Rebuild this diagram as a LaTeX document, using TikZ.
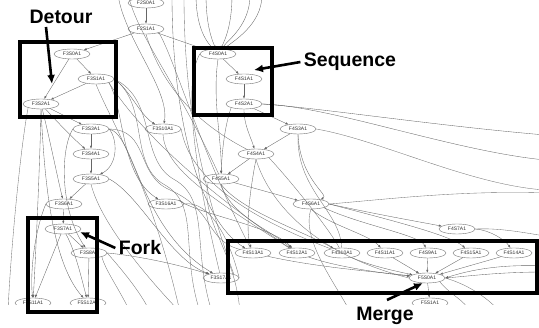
\documentclass[tikz,border=0pt]{standalone}
\usepackage{fontspec}
\setmainfont{Liberation Sans}
\usetikzlibrary{shapes.geometric,arrows.meta}
\begin{document}
\begin{tikzpicture}[x=1pt,y=-1pt,
 gnode/.style={ellipse,draw=black!55,fill=white,line width=0.4pt,inner sep=0.5pt,minimum width=36pt,minimum height=10pt,font=\fontsize{5}{5}\selectfont,text=black!80},
 gedge/.style={draw=black!60,line width=0.35pt,-{Latex[length=3pt,width=2.2pt]}},
 gline/.style={draw=black!55,line width=0.35pt},
 hbox/.style={draw=black,line width=4.2pt},
 callout/.style={font=\fontsize{19.5}{20}\selectfont\bfseries},
 carrow/.style={draw=black,line width=2.6pt,-{Latex[length=9pt,width=8pt]}}]
\useasboundingbox (0,0) rectangle (539,328);
\begin{scope}
\clip (0,0) rectangle (539,305);
% nodes
\node[gnode] (n20) at (146,3) {F2S0A1};
\node[gnode] (n21) at (146,29) {F2S1A1};
\node[gnode] (n30) at (72,54) {F3S0A1};
\node[gnode] (n31) at (96,79) {F3S1A1};
\node[gnode] (n32) at (41,104) {F3S2A1};
\node[gnode] (n33) at (91,129) {F3S3A1};
\node[gnode] (n34) at (91,154) {F3S4A1};
\node[gnode] (n35) at (91,179) {F3S5A1};
\node[gnode] (n36) at (64,204) {F3S6A1};
\node[gnode] (n37) at (63,229) {F3S7A1};
\node[gnode] (n38) at (89,253) {F3S8A1};
\node[gnode] (n310) at (163,129) {F3S10A1};
\node[gnode] (n316) at (166,204) {F3S16A1};
\node[gnode] (n317) at (221,278) {F3S17A1};
\node[gnode] (n511) at (33,303) {F5S11A1};
\node[gnode] (n512) at (88,303) {F5S12A1};
\node[gnode] (n40) at (218,54) {F4S0A1};
\node[gnode] (n41) at (244,79) {F4S1A1};
\node[gnode] (n42) at (244,104) {F4S2A1};
\node[gnode] (n43) at (298,129) {F4S3A1};
\node[gnode] (n44) at (256,154) {F4S4A1};
\node[gnode] (n45) at (221,179) {F4S5A1};
\node[gnode] (n46) at (311,204) {F4S6A1};
\node[gnode] (n47) at (457,229) {F4S7A1};
\node[gnode] (n413) at (253,253) {F4S13A1};
\node[gnode] (n412) at (297,253) {F4S12A1};
\node[gnode] (n410) at (342,253) {F4S10A1};
\node[gnode] (n411) at (385,253) {F4S11A1};
\node[gnode] (n49) at (428,253) {F4S9A1};
\node[gnode] (n415) at (471,253) {F4S15A1};
\node[gnode] (n414) at (514,253) {F4S14A1};
\node[gnode] (n50) at (427,278) {F5S0A1};
\node[gnode] (n51) at (430,303) {F5S1A1};
% free ends
\coordinate (t1) at (118,-5); \coordinate (t2) at (128,-5);
\coordinate (t3) at (172,-5); \coordinate (t4) at (184,-5);
\coordinate (t5) at (196,-5); \coordinate (t6) at (206,-5);
\coordinate (t7) at (232,-5); \coordinate (t8) at (250,-5);
\coordinate (t9) at (262,-5);
\coordinate (r1) at (545,135); \coordinate (r2) at (545,160);
\coordinate (r3) at (545,190); \coordinate (r4) at (545,193);
\coordinate (r5) at (545,236); \coordinate (r6) at (545,266);
\coordinate (r7) at (545,272);
\coordinate (b1) at (130,312); \coordinate (b2) at (150,312);
\coordinate (b3) at (180,312); \coordinate (b4) at (470,312);
\coordinate (b5) at (500,312); \coordinate (b6) at (240,312);
\coordinate (b7) at (350,312); \coordinate (b8) at (8,312);
\coordinate (b9) at (200,312); \coordinate (b10) at (212,312);
% main graph edges
\draw[gedge] (n20) -- (n21);
\draw[gedge] (n21) -- (n30);
\draw[gedge] (n21) -- (n40);
\draw[gedge] (n30) -- (n31);
\draw[gedge] (n30) -- (n32);
\draw[gedge] (n31) -- (n32);
\draw[gedge] (n32) -- (n33);
\draw[gedge] (n32) .. controls (60,125) and (75,140) .. (n34);
\draw[gedge] (n32) .. controls (50,140) and (58,180) .. (n36);
\draw[gedge] (n32.south) .. controls (40,160) and (36,250) .. (n511);
\draw[gedge] (n32.south) .. controls (44,170) and (50,260) .. (n512);
\draw[gedge] (n33) -- (n34);
\draw[gedge] (n33.east) .. controls (118,140) and (118,165) .. (n35);
\draw[gedge] (n33.west) .. controls (60,150) and (60,210) .. (n38);
\draw[gedge] (n34) -- (n35);
\draw[gedge] (n35) -- (n36);
\draw[gedge] (n36) -- (n37);
\draw[gedge] (n37) -- (n38);
\draw[gedge] (n37) -- (n511);
\draw[gedge] (n37) .. controls (75,250) and (82,280) .. (n512);
\draw[gedge] (n38) -- (n512);
\draw[gedge] (n36.west) .. controls (35,230) and (30,270) .. (n511);
\draw[gedge] (n40) -- (n41);
\draw[gedge] (n41) -- (n42);
\draw[gedge] (n42) -- (n43);
\draw[gedge] (n42.south) .. controls (244,125) and (250,135) .. (n44);
\draw[gedge] (n42.south west) .. controls (225,125) and (222,150) .. (n45);
\draw[gedge] (n43) -- (n44);
\draw[gedge] (n44) -- (n45);
\draw[gedge] (n45) -- (n46);
\draw[gedge] (n46.east) .. controls (380,215) and (420,222) .. (n47);
\draw[gedge] (n413) .. controls (320,268) and (380,272) .. (n50);
\draw[gedge] (n412) .. controls (340,268) and (390,274) .. (n50);
\draw[gedge] (n410) .. controls (370,266) and (400,272) .. (n50);
\draw[gedge] (n411) -- (n50);
\draw[gedge] (n49) -- (n50);
\draw[gedge] (n415) -- (n50);
\draw[gedge] (n414) -- (n50);
\draw[gedge] (n50) -- (n51);
% long edges of the tangle
\draw[gedge] (n31.east) .. controls (130,90) and (140,115) .. (n310);
\draw[gedge] (n31.south east) .. controls (125,110) and (120,175) .. (n316);
\draw[gedge] (n33.east) .. controls (135,135) and (140,230) .. (n317);
\draw[gedge] (n35.east) .. controls (140,195) and (170,260) .. (n317);
\draw[gedge] (n38.east) .. controls (130,255) and (170,262) .. (n317);
\draw[gline] (n31.south) .. controls (110,120) and (150,180) .. (b3);
\draw[gline] (n31.south east) .. controls (130,115) and (175,170) .. (n412);
\draw[gline] (n31.east) .. controls (150,105) and (128,165) .. (165,185) .. controls (200,205) and (180,250) .. (b9);
\draw[gline] (n31.east) .. controls (158,100) and (138,160) .. (175,180) .. controls (210,200) and (192,250) .. (b10);
\draw[gline] (n33.east) .. controls (150,130) and (135,175) .. (170,190) .. controls (215,210) and (205,240) .. (n413);
\draw[gedge] (t1) .. controls (125,40) and (170,90) .. (n310);
\draw[gline] (t2) .. controls (140,40) and (175,80) .. (n45);
\draw[gline] (n21.south) .. controls (160,80) and (190,120) .. (n44);
\draw[gline] (n21.south east) .. controls (175,60) and (200,150) .. (n413);
\draw[gedge] (t3) .. controls (172,120) and (200,220) .. (n413);
\draw[gline] (t4) .. controls (184,100) and (200,180) .. (n317.north east);
\draw[gedge] (t5) .. controls (196,25) and (205,40) .. (n40);
\draw[gedge] (t6) .. controls (206,25) and (212,40) .. (n40);
\draw[gedge] (t7) .. controls (232,25) and (225,40) .. (n40);
\draw[gedge] (t8) .. controls (250,25) and (228,40) .. (n40);
\draw[gedge] (t9) .. controls (262,25) and (232,42) .. (n40);
\draw[gline] (n40.west) .. controls (185,80) and (190,150) .. (n317);
\draw[gedge] (n40.south) .. controls (212,100) and (222,140) .. (n45);
\draw[gline] (n310.south) .. controls (165,170) and (215,200) .. (n412);
\draw[gline] (n310.east) .. controls (185,150) and (200,200) .. (n410);
\draw[gedge] (n316.north east) .. controls (200,215) and (270,225) .. (n412);
\draw[gline] (n316.east) .. controls (210,200) and (230,240) .. (n317.east);
\draw[gedge] (n42.east) .. controls (330,106) and (450,150) .. (r2);
\draw[gedge] (n42.east) .. controls (320,108) and (430,125) .. (r1);
\draw[gline] (n43.east) .. controls (380,140) and (470,185) .. (r3);
\draw[gline] (n43.south) .. controls (296,190) and (340,210) .. (n410);
\draw[gline] (n46.east) .. controls (380,200) and (460,190) .. (r4);
\draw[gedge] (n46.south) .. controls (330,225) and (370,235) .. (n411);
\draw[gedge] (n46.south east) .. controls (360,225) and (420,235) .. (n49);
\draw[gedge] (n46.east) .. controls (390,220) and (450,235) .. (n415);
\draw[gedge] (n47.east) .. controls (490,230) and (505,240) .. (n414);
\draw[gline] (n47.east) .. controls (500,228) and (520,232) .. (r5);
\draw[gedge] (n45.south) .. controls (240,210) and (300,230) .. (n410);
\draw[gedge] (n45.south) .. controls (230,215) and (270,230) .. (n412);
\draw[gedge] (n44.south) .. controls (250,190) and (245,230) .. (n413);
\draw[gline] (n44.south east) .. controls (290,180) and (330,230) .. (n410);
\draw[gline] (n44.south) .. controls (265,190) and (300,250) .. (n50.west);
\draw[gedge] (n43.south) .. controls (300,180) and (330,195) .. (n46);
\draw[gline] (n45.south west) .. controls (200,220) and (235,250) .. (b6);
\draw[gline] (n46.south) .. controls (300,240) and (340,290) .. (b7);
\draw[gedge] (r6) .. controls (500,264) and (470,270) .. (n50.east);
\draw[gedge] (r7) .. controls (500,272) and (470,276) .. (n50.east);
\draw[gline] (n50.south east) .. controls (450,295) and (465,300) .. (b4);
\draw[gline] (n50.east) .. controls (470,285) and (490,300) .. (b5);
\draw[gline] (n38.south east) .. controls (105,270) and (120,290) .. (b1);
\draw[gline] (n38.east) .. controls (115,262) and (140,290) .. (b2);
\draw[gline] (n35.south) .. controls (100,220) and (140,270) .. (b3);
\draw[gline] (n32.south west) .. controls (20,150) and (10,260) .. (b8);
\end{scope}
% highlight boxes
\draw[hbox] (20,42) rectangle (116,117);
\draw[hbox] (194,48) rectangle (272,115);
\draw[hbox] (28,218) rectangle (97,312);
\draw[hbox] (228,241) rectangle (537,293);
% callouts
\node[callout] (lDetour) at (61,17) {Detour};
\node[callout] (lSeq) at (350,62) {Sequence};
\node[callout] (lFork) at (140,248) {Fork};
\node[callout] (lMerge) at (385,316) {Merge};
\coordinate (aDetour) at (52,84);
\coordinate (aSeq) at (254,70);
\coordinate (aFork) at (80,232);
\coordinate (aMerge) at (423,283);
\draw[carrow] (46,27) -- (aDetour);
\draw[carrow] (lSeq.west) -- (aSeq);
\draw[carrow] (lFork.west) -- (aFork);
\draw[carrow] (387,300) -- (aMerge);
\end{tikzpicture}
\end{document}
